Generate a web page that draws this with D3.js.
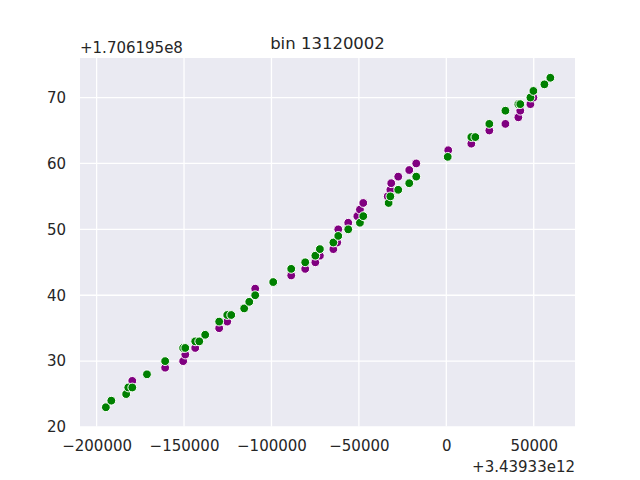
<!DOCTYPE html>
<html>
<head>
<meta charset="utf-8">
<script src="https://cdn.jsdelivr.net/npm/d3@7"></script>
<style>
  body { margin: 0; background: #fff; }
  svg { font-family: "DejaVu Sans", sans-serif; }
</style>
</head>
<body>
<svg width="640" height="480"></svg>
<script>
// offsets shown by the axes
const X_OFFSET_LABEL = '+3.43933e12';
const Y_OFFSET_LABEL = '+1.706195e8';
const TITLE = 'bin 13120002';

// purple series (x relative to offset, y relative to offset)
const purpleX = [-179600,-160800,-150500,-149300,-143600,-129900,-125300,-109300,-88700,-80700,
  -74900,-72300,-64600,-62400,-61800,-56100,-50900,-49400,-47500,-33500,-32000,-31500,-27500,
  -21200,-17200,1100,14300,24600,33800,41200,42300,48100,49800];
const purpleY = [27,29,30,31,32,35,36,41,43,44,45,46,47,48,50,51,52,53,54,55,56,57,58,59,60,
  62,63,65,66,67,68,69,70];

// green series
const greenX = [-194700,-191600,-183100,-181900,-179600,-171200,-160800,-150500,-149300,-143600,
  -141300,-137900,-129900,-125300,-123000,-115600,-112700,-109300,-99000,-88700,-80700,-74900,
  -72300,-64600,-61800,-56100,-49400,-47500,-33000,-32000,-27500,-21200,-17200,800,14300,16600,
  24600,33800,41200,42300,48100,49800,56100,59500];
const greenY = [23,24,25,26,26,28,30,32,32,33,33,34,36,37,37,38,39,40,42,44,45,46,47,48,49,50,
  51,52,54,55,56,57,58,61,64,64,66,68,69,69,70,71,72,73];

const xTicks = [-200000,-150000,-100000,-50000,0,50000];
const yTicks = [20,30,40,50,60,70];

const mLeft = 80, mRight = 575, mTop = 58, mBottom = 426.5;

const svg = d3.select('svg');

const x = d3.scaleLinear().domain([-209500, 73600]).range([mLeft, mRight]);
const y = d3.scaleLinear().domain([20.08, 76.0]).range([mBottom, mTop]);

svg.append('rect')
  .attr('x', mLeft).attr('y', mTop)
  .attr('width', mRight-mLeft).attr('height', mBottom-mTop)
  .attr('fill', '#eaeaf2');

const fmt = v => String(v).replace('-', '\u2212');

// grid
svg.append('g').selectAll('line').data(xTicks).enter().append('line')
  .attr('x1', d => x(d)).attr('x2', d => x(d))
  .attr('y1', mTop).attr('y2', mBottom)
  .attr('stroke', '#fff').attr('stroke-width', 1.3);
svg.append('g').selectAll('line').data(yTicks).enter().append('line')
  .attr('y1', d => y(d)).attr('y2', d => y(d))
  .attr('x1', mLeft).attr('x2', mRight)
  .attr('stroke', '#fff').attr('stroke-width', 1.3);

// axes (no tick marks, no domain line, seaborn darkgrid)
const xAxis = svg.append('g').attr('transform', `translate(0,${mBottom})`)
  .call(d3.axisBottom(x).tickValues(xTicks).tickFormat(fmt).tickSize(0).tickPadding(14));
const yAxis = svg.append('g').attr('transform', `translate(${mLeft},0)`)
  .call(d3.axisLeft(y).tickValues(yTicks).tickFormat(fmt).tickSize(0).tickPadding(14));
[xAxis, yAxis].forEach(a => {
  a.select('.domain').remove();
  a.selectAll('text').attr('font-size', 15).attr('fill', '#262626')
    .attr('font-family', '"DejaVu Sans", sans-serif');
});

// offset labels
svg.append('text').attr('x', mRight).attr('y', 471.5)
  .attr('text-anchor', 'end').attr('font-size', 15).attr('fill', '#262626')
  .text(X_OFFSET_LABEL);
svg.append('text').attr('x', mLeft).attr('y', 52.5)
  .attr('text-anchor', 'start').attr('font-size', 15).attr('fill', '#262626')
  .text(Y_OFFSET_LABEL);

// title
svg.append('text').attr('x', (mLeft+mRight)/2).attr('y', 48.5)
  .attr('text-anchor', 'middle').attr('font-size', 16.5).attr('fill', '#262626')
  .text(TITLE);

// points
const purple = purpleX.map((v, i) => ({x: v, y: purpleY[i]}));
const green = greenX.map((v, i) => ({x: v, y: greenY[i]}));

const drawPts = (data, color) => svg.append('g').selectAll('circle')
  .data(data).enter().append('circle')
  .attr('cx', d => x(d.x)).attr('cy', d => y(d.y))
  .attr('r', 4.4)
  .attr('fill', color)
  .attr('stroke', '#fff').attr('stroke-width', 1);

drawPts(purple, '#800080');
drawPts(green, '#008000');
</script>
</body>
</html>
